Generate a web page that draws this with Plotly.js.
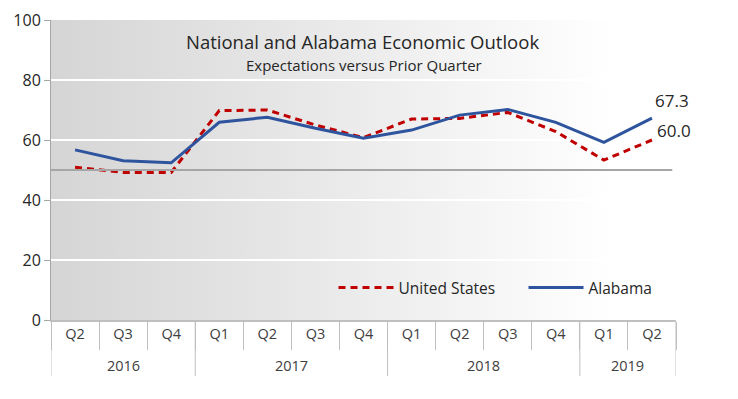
<!DOCTYPE html>
<html>
<head>
<meta charset="utf-8">
<script src="https://cdn.plot.ly/plotly-3.0.1.min.js"></script>
<style>html,body{margin:0;padding:0;background:#fff;}#chart{width:738px;height:399px;}</style>
</head>
<body>
<div id="chart"></div>
<script>
// Data
const years    = ['2016','2016','2016','2017','2017','2017','2017','2018','2018','2018','2018','2019','2019'];
const quarters = ['Q2','Q3','Q4','Q1','Q2','Q3','Q4','Q1','Q2','Q3','Q4','Q1','Q2'];
const unitedStates = [50.9, 49.2, 49.2, 69.8, 70.0, 65.0, 60.8, 67.0, 67.2, 69.2, 62.8, 53.3, 60.0];
const alabama      = [56.7, 53.1, 52.4, 65.9, 67.6, 63.9, 60.6, 63.3, 68.3, 70.2, 65.9, 59.2, 67.3];
const yTicks = [0, 20, 40, 60, 80, 100];
const referenceLevel = 50;
const titleText = 'National and Alabama Economic Outlook';
const subtitleText = 'Expectations versus Prior Quarter';

const categories = years.map((y, i) => y + ' ' + quarters[i]);
const last = categories.length - 1;

const font = '"Open Sans", "Noto Sans", sans-serif';
const axisGray = '#bfbfbf';

const gradSvg = '<svg xmlns="http://www.w3.org/2000/svg" width="100" height="100" preserveAspectRatio="none">' +
  '<defs><linearGradient id="g" x1="0" y1="0" x2="1" y2="0">' +
  '<stop offset="0" stop-color="#d5d5d5"/><stop offset="0.5" stop-color="#ececec"/><stop offset="0.9" stop-color="#ffffff"/>' +
  '</linearGradient></defs><rect width="100" height="100" fill="url(#g)"/></svg>';
const gradUri = 'data:image/svg+xml;base64,' + btoa(gradSvg);

// year groups: boundaries and centers computed from the years array
const groups = [];
years.forEach((y, i) => {
  if (!groups.length || groups[groups.length-1].year !== y) groups.push({year: y, start: i, end: i});
  else groups[groups.length-1].end = i;
});

const dividerShapes = [];
groups.forEach((g, k) => {
  dividerShapes.push({type: 'line', xref: 'x', yref: 'paper', x0: g.start - 0.5, x1: g.start - 0.5,
    y0: 0, y1: -0.187, line: {color: axisGray, width: 1}});
  if (k === groups.length - 1) {
    dividerShapes.push({type: 'line', xref: 'x', yref: 'paper', x0: g.end + 0.5, x1: g.end + 0.5,
      y0: 0, y1: -0.187, line: {color: axisGray, width: 1}});
  }
});
const yearAnnotations = groups.map(g => ({
  text: g.year, xref: 'x', yref: 'paper', x: (g.start + g.end) / 2, y: -0.152,
  xanchor: 'center', yanchor: 'middle', showarrow: false,
  font: {family: font, size: 14.5, color: '#404040'}
}));

const valueLabels = [
  {text: alabama[last].toFixed(1), xref: 'x', yref: 'y', x: categories[last], y: alabama[last],
   xanchor: 'left', yanchor: 'middle', xshift: 1, yshift: 18, showarrow: false,
   font: {family: font, size: 17, color: '#262626'}},
  {text: unitedStates[last].toFixed(1), xref: 'x', yref: 'y', x: categories[last], y: unitedStates[last],
   xanchor: 'left', yanchor: 'middle', xshift: 3, yshift: 10, showarrow: false,
   font: {family: font, size: 17, color: '#262626'}}
];

const traces = [
  {
    x: categories, y: unitedStates, name: 'United States', legend: 'legend',
    type: 'scatter', mode: 'lines',
    line: {color: '#c00000', width: 3, dash: '7px,5px'},
    hoverinfo: 'skip'
  },
  {
    x: categories, y: alabama, name: 'Alabama', legend: 'legend2',
    type: 'scatter', mode: 'lines',
    line: {color: '#2f549e', width: 3},
    hoverinfo: 'skip'
  }
];

const legendStyle = {
  orientation: 'h', y: 0.107, xanchor: 'left', yanchor: 'middle',
  bgcolor: 'rgba(0,0,0,0)', font: {family: font, size: 15.5, color: '#262626'},
  itemwidth: 55
};

const layout = {
  width: 738, height: 399,
  margin: {l: 51, r: 62, t: 20, b: 79},
  paper_bgcolor: '#ffffff',
  plot_bgcolor: 'rgba(0,0,0,0)',
  font: {family: font, color: '#262626'},
  showlegend: true,
  legend: Object.assign({}, legendStyle, {x: 0.452}),
  legend2: Object.assign({}, legendStyle, {x: 0.756}),
  xaxis: {
    type: 'category',
    tickvals: categories, ticktext: quarters,
    range: [-0.5, categories.length - 0.5],
    showgrid: false,
    showline: true, linecolor: axisGray, linewidth: 2,
    ticks: 'outside', tickson: 'boundaries', ticklen: 28, tickcolor: axisGray, tickwidth: 1,
    tickfont: {family: font, size: 14.5, color: '#404040'},
    fixedrange: true
  },
  yaxis: {
    range: [0, 100], tickvals: yTicks,
    showgrid: true, gridcolor: '#ffffff', gridwidth: 1.5,
    zeroline: false,
    showline: true, linecolor: '#a6a6a6', linewidth: 1,
    ticks: 'outside', ticklen: 6, tickcolor: '#a6a6a6',
    tickfont: {family: font, size: 16, color: '#262626'},
    fixedrange: true
  },
  images: [{
    source: gradUri, xref: 'paper', yref: 'paper', x: 0, y: 1,
    sizex: 1, sizey: 1, sizing: 'stretch', layer: 'below', xanchor: 'left', yanchor: 'top'
  }],
  shapes: [{
    type: 'line', xref: 'paper', yref: 'y', x0: 0, x1: 0.994,
    y0: referenceLevel, y1: referenceLevel,
    line: {color: '#a6a6a6', width: 2}
  }].concat(dividerShapes),
  annotations: [
    {text: titleText, xref: 'paper', yref: 'paper', x: 0.499, y: 0.927, xanchor: 'center', yanchor: 'middle',
     showarrow: false, font: {family: font, size: 18.5, color: '#262626'}},
    {text: subtitleText, xref: 'paper', yref: 'paper', x: 0.5, y: 0.85, xanchor: 'center', yanchor: 'middle',
     showarrow: false, font: {family: font, size: 15, color: '#262626'}}
  ].concat(yearAnnotations).concat(valueLabels)
};

Plotly.newPlot('chart', traces, layout, {displayModeBar: false, staticPlot: true});
</script>
</body>
</html>
